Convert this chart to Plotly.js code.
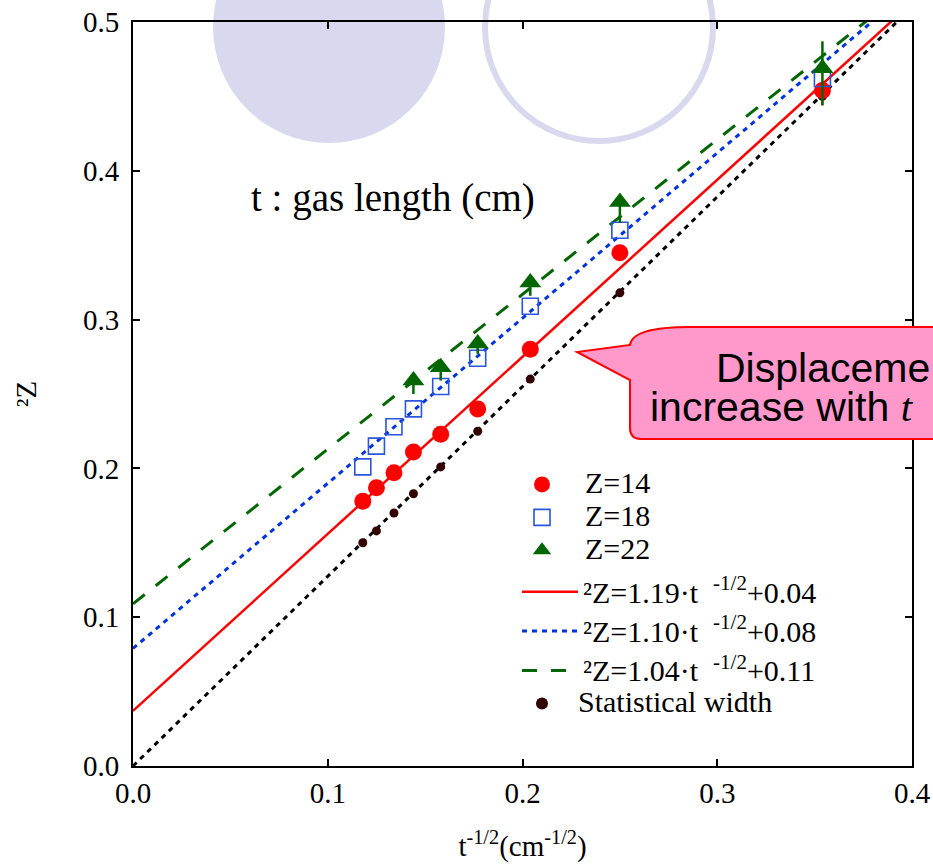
<!DOCTYPE html>
<html>
<head>
<meta charset="utf-8">
<script src="https://cdn.plot.ly/plotly-3.0.1.min.js"></script>
<style>html,body{margin:0;padding:0;background:#fff;}#chart{width:933px;height:865px;}</style>
</head>
<body>
<div id="chart"></div>
<script>
// ---- data ----
const xVals = [0.118, 0.125, 0.134, 0.144, 0.158, 0.177, 0.204, 0.250, 0.354];
const z14 = [0.178, 0.187, 0.197, 0.211, 0.223, 0.240, 0.280, 0.345, 0.454];
const z14ErrMinus = [0, 0, 0, 0, 0, 0, 0, 0, 0.010];
const z18 = [0.201, 0.215, 0.228, 0.240, 0.255, 0.274, 0.309, 0.360, 0.462];
const z22X = [0.144, 0.158, 0.177, 0.204, 0.250, 0.354];
const z22 = [0.259, 0.268, 0.284, 0.325, 0.379, 0.469];
const z22ErrPlus = [0, 0, 0, 0, 0, 0.018];
const z22ErrMinus = [0.009, 0.009, 0.007, 0.009, 0.014, 0.025];
const statWidth = [0.150, 0.158, 0.170, 0.183, 0.201, 0.225, 0.260, 0.318, 0.450];
const fitX = [0, 0.4];
const fit14 = [0.037, 0.513];
const fit18 = [0.079, 0.523];
const fit22 = [0.109, 0.525];
const statLine = [0, 0.510];
const names = ["Z=14", "Z=18", "Z=22",
  "\u00b2Z=1.19\u00b7t\u00a0\u00a0<sup>-1/2</sup>+0.04",
  "\u00b2Z=1.10\u00b7t\u00a0\u00a0<sup>-1/2</sup>+0.08",
  "\u00b2Z=1.04\u00b7t\u00a0\u00a0<sup>-1/2</sup>+0.11",
  "Statistical width"];
const xTicks = [0, 0.1, 0.2, 0.3, 0.4];
const yTicks = [0, 0.1, 0.2, 0.3, 0.4, 0.5];

const RED = "#ff0000", BLUE = "#0033dd", SQ = "#2a55dd", GREEN = "#006600", DOT = "#330000";
const serif = "Liberation Serif, Times New Roman, serif";
const big = s => "<span style=\"font-size:30px\">" + s + "</span>";

const traces = [
  {x: fitX, y: statLine, mode: "lines", showlegend: false, hoverinfo: "skip",
   line: {color: "#000", width: 3, dash: "5px,5px"}},
  {x: fitX, y: fit14, mode: "lines", name: big(names[3]), legend: "legend2", legendrank: 1,
   line: {color: RED, width: 2.5}},
  {x: fitX, y: fit18, mode: "lines", name: big(names[4]), legend: "legend2", legendrank: 2,
   line: {color: BLUE, width: 3, dash: "5px,5px"}},
  {x: fitX, y: fit22, mode: "lines", name: big(names[5]), legend: "legend2", legendrank: 3,
   line: {color: GREEN, width: 3, dash: "15px,14px"}},
  {x: xVals, y: statWidth, mode: "markers", name: big(names[6]), legend: "legend3",
   marker: {color: DOT, size: 9}},
  {x: xVals, y: z14, mode: "markers", name: big(names[0]), legendrank: 1,
   marker: {color: RED, size: 17},
   error_y: {type: "data", symmetric: false, array: xVals.map(() => 0), arrayminus: z14ErrMinus,
             color: RED, thickness: 2, width: 0}},
  {x: xVals, y: z18, mode: "markers", name: big(names[1]), legendrank: 2,
   marker: {symbol: "square-open", color: SQ, size: 16, line: {width: 1.6, color: SQ}}},
  {x: z22X, y: z22, mode: "markers", name: big(names[2]), legendrank: 3,
   marker: {symbol: "triangle-up", color: GREEN, size: 19},
   error_y: {type: "data", symmetric: false, array: z22ErrPlus, arrayminus: z22ErrMinus,
             color: GREEN, thickness: 2.5, width: 0}}
];

// pixel -> paper helpers for decorations
const L = 133, R = 912, T = 22, B = 766;
const px = v => (v - L) / (R - L);
const py = v => (B - v) / (B - T);
const P = (x, y) => px(x).toFixed(4) + "," + py(y).toFixed(4);

const calloutPath = "M" + P(960, 327) + " L" + P(690, 327) + " Q" + P(632, 327) + " " + P(630, 345) +
  " L" + P(577, 352) + " L" + P(630, 380) + " L" + P(630, 428) + " Q" + P(630, 439) + " " + P(641, 439) +
  " L" + P(960, 439) + " Z";

const legendBase = {xanchor: "left", yanchor: "top", bgcolor: "rgba(0,0,0,0)", borderwidth: 0,
                    tracegroupgap: 0};

const layout = {
  width: 933, height: 865,
  margin: {l: L, r: 933 - R, t: T, b: 865 - B, pad: 0},
  paper_bgcolor: "#fff", plot_bgcolor: "rgba(0,0,0,0)",
  font: {family: serif, size: 29, color: "#000"},
  showlegend: true,
  legend: Object.assign({}, legendBase, {x: px(499), y: py(463), itemwidth: 76,
           font: {family: serif, size: 23, color: "#000"}}),
  legend2: Object.assign({}, legendBase, {x: px(517), y: py(567), itemwidth: 56,
           font: {family: serif, size: 28, color: "#000"}}),
  legend3: Object.assign({}, legendBase, {x: px(506), y: py(682), itemwidth: 62, itemsizing: "constant",
           font: {family: serif, size: 23, color: "#000"}}),
  xaxis: {range: [0, 0.4], tickvals: xTicks, tickformat: ".1f", ticks: "inside", ticklen: 7, tickwidth: 2,
          tickcolor: "#000", showline: true, linewidth: 2, linecolor: "#000", mirror: "ticks",
          showgrid: false, zeroline: false, ticklabelstandoff: 0,
          tickfont: {family: serif, size: 29},
          title: {text: "t<sup>-1/2</sup>(cm<sup>-1/2</sup>)", font: {family: serif, size: 29}, standoff: 28}},
  yaxis: {range: [0, 0.5], tickvals: yTicks, tickformat: ".1f", ticks: "inside", ticklen: 7, tickwidth: 2,
          tickcolor: "#000", showline: true, linewidth: 2, linecolor: "#000", mirror: "ticks",
          showgrid: false, zeroline: false, ticklabelstandoff: 6,
          tickfont: {family: serif, size: 29},
          title: {text: "\u00b2Z", font: {family: serif, size: 29}, standoff: 38}},
  shapes: [
    {type: "circle", xref: "paper", yref: "paper", layer: "below",
     x0: px(213), x1: px(445), y0: py(143), y1: py(-89), fillcolor: "#dad8ee", line: {width: 0}},
    {type: "circle", xref: "paper", yref: "paper", layer: "below",
     x0: px(485), x1: px(713), y0: py(141), y1: py(-87), fillcolor: "rgba(0,0,0,0)",
     line: {color: "#dad8ee", width: 6}},
    {type: "path", xref: "paper", yref: "paper", layer: "above", path: calloutPath,
     fillcolor: "#ff99cc", line: {color: "#ff0000", width: 2}}
  ],
  annotations: [
    {xref: "paper", yref: "paper", x: px(393), y: py(198), xanchor: "center", yanchor: "middle",
     text: "t : gas length (cm)", showarrow: false, font: {family: serif, size: 39, color: "#000"}},
    {xref: "paper", yref: "paper", x: px(714), y: py(368), xanchor: "left", yanchor: "middle",
     text: "Displaceme", showarrow: false,
     font: {family: "Liberation Sans, Arial, sans-serif", size: 41, color: "#000"}},
    {xref: "paper", yref: "paper", x: px(648), y: py(407), xanchor: "left", yanchor: "middle",
     text: "increase with <span style=\"font-family:Liberation Serif\"><i>t</i></span>", showarrow: false,
     font: {family: "Liberation Sans, Arial, sans-serif", size: 41, color: "#000"}}
  ]
};

Plotly.newPlot("chart", traces, layout, {displayModeBar: false, staticPlot: true});
</script>
</body>
</html>
